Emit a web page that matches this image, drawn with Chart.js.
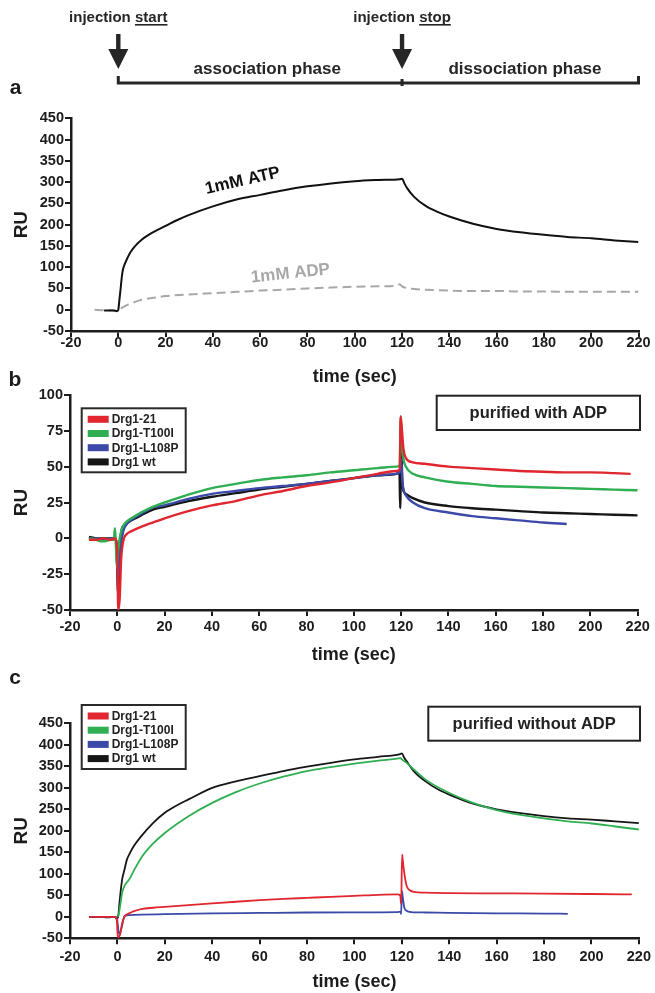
<!DOCTYPE html>
<html>
<head>
<meta charset="utf-8">
<script src="https://cdn.jsdelivr.net/npm/chart.js@4.4.1/dist/chart.umd.min.js"></script>
<style>
  html, body { margin: 0; padding: 0; background: #fff; overflow: hidden; }
  #page { position: relative; width: 655px; height: 993px; }
  .panel { position: absolute; left: 0; width: 655px; }
  #wrap-a { top: 0; height: 390px; }
  #wrap-b { top: 370px; height: 300px; }
  #wrap-c { top: 668px; height: 325px; }
</style>
</head>
<body>
<div id="page">
  <div class="panel" id="wrap-a"><canvas id="chart-a"></canvas></div>
  <div class="panel" id="wrap-b"><canvas id="chart-b"></canvas></div>
  <div class="panel" id="wrap-c"><canvas id="chart-c"></canvas></div>
</div>
<script>
/* SPR sensorgrams, three panels: a (ATP/ADP), b (with ADP), c (without ADP) */

// ---- panel a ----
const atpTime = [-6, -2, -0.5, 0, 0.5, 1, 1.5, 2, 3, 4, 5, 7, 10, 15, 20, 25, 30, 40, 50, 60, 70, 80, 90, 100, 110, 119, 120, 121, 122, 125, 130, 135, 140, 150, 160, 170, 180, 190, 200, 210, 220];
const atpRU   = [-2, -2, -3, 0, 25, 50, 78, 95, 111, 123, 134, 149, 165, 183, 197, 211, 223, 243, 259, 270, 281, 290, 297, 302, 305, 307, 308, 297, 287, 266, 244, 230, 219, 202, 190, 182, 176, 171, 168, 163, 159];
const adpTime = [-10, -6, -3, -1, 0, 1, 3, 5, 9, 15, 20, 30, 40, 50, 60, 70, 80, 90, 100, 110, 118, 119, 120, 122, 125, 130, 140, 150, 160, 170, 180, 190, 200, 210, 220];
const adpRU   = [0, -1, -1, -3, -5, 2, 9, 14, 22, 28, 32, 36, 39, 42, 45, 47, 50, 52, 54, 55, 57, 60, 55, 51, 49, 47, 45, 44, 44, 43, 43, 42, 42, 42, 42];

// ---- panel b: purified with ADP ----
const b21Time = [-12, -9, -6, -3, -1, 0, 0.4, 1, 1.6, 2.5, 4, 6, 10, 15, 20, 30, 40, 50, 60, 70, 80, 90, 100, 110, 118, 119.4, 119.8, 120.2, 121, 122, 125, 130, 140, 150, 160, 170, 180, 190, 200, 210, 217];
const b21RU   = [-1, -1, 0, -1, 0, -10, -50, -42, -15, -2, 3, 5, 8, 11, 14, 19, 23, 26, 30, 33, 36.5, 39, 42, 45, 47, 48, 85, 78, 62, 56, 53, 52, 50, 49, 48, 47, 46.5, 46, 46, 45.5, 45];
const bT100Time = [-12, -9, -7, -5, -3, -1.5, -1, -0.6, -0.2, 0.3, 1, 2, 3, 5, 7, 10, 15, 20, 30, 40, 50, 60, 70, 80, 90, 100, 110, 118, 119.4, 119.8, 120.3, 121, 122, 125, 130, 140, 150, 160, 170, 180, 190, 200, 210, 220];
const bT100RU   = [0, -1, -2, -2, -1, -1, 7, -5, -20, -10, 0, 7, 10, 13, 15, 18, 22, 25, 30.5, 35, 38, 40.7, 42.5, 44, 46, 47.5, 49, 50, 51, 85, 65, 55, 50, 45, 42.5, 39.5, 38, 36.5, 36, 35.5, 35, 34.5, 34, 33.5];
const bL108Time = [-12, -9, -6, -3, -1, -0.3, 0.2, 0.8, 1.5, 2.5, 4, 6, 10, 15, 20, 30, 40, 50, 60, 70, 80, 90, 100, 110, 118, 119.5, 120, 120.5, 121, 122, 125, 130, 140, 150, 160, 170, 180, 190];
const bL108RU   = [0, 0, -1, 0, 0, -5, -30, -20, -5, 5, 10, 13, 17, 21.5, 23, 27.5, 31, 33, 35, 36.5, 38, 40, 42, 44, 45, 47, 55, 40, 34, 30, 25, 21, 18, 15.5, 14, 12.5, 11, 10];
const bWtTime = [-12, -9, -6, -3, -1, -0.3, 0.3, 1, 1.5, 2, 3, 5, 7, 10, 15, 20, 30, 40, 50, 60, 70, 80, 90, 100, 110, 118, 119.3, 119.6, 120, 120.5, 121, 122, 125, 130, 140, 150, 160, 170, 180, 190, 200, 210, 220];
const bWtRU   = [1, 0, 0, 0, 0, -5, -38, -20, 0, 7, 9, 11.6, 13.5, 16, 20, 22, 26, 29, 31.5, 34, 36, 38, 40, 42, 44, 45, 46, 21, 64, 40, 33, 31, 28, 25, 22.5, 21, 20, 19, 18, 17.5, 17, 16.5, 16];

// ---- panel c: purified without ADP ----
const c21Time = [-12, -8, -4, -1, -0.3, 0.2, 0.6, 1.2, 2, 3, 5, 7, 10, 15, 20, 30, 40, 50, 60, 70, 80, 90, 100, 110, 118, 119.3, 119.7, 120.1, 120.6, 121.2, 122, 123, 125, 130, 140, 160, 180, 200, 217];
const c21RU   = [0, 0, 0, 0, -5, -48, -47, -40, -15, 0, 8, 13, 18, 21, 23, 27, 31, 35, 38.6, 41.5, 44, 46.5, 48.5, 51, 52, 50, 30, 145, 120, 95, 72, 63, 58, 56, 55, 54.5, 54, 53, 52];
const cT100Time = [0, 0.5, 1, 2, 3, 5, 7, 10, 15, 20, 30, 40, 50, 60, 70, 80, 90, 100, 110, 118, 119.5, 120, 122, 125, 130, 140, 150, 160, 170, 180, 190, 200, 210, 220];
const cT100RU   = [0, 5, 20, 56, 72, 87, 108, 137, 170, 195, 234, 265, 290, 310, 326, 339, 348, 356, 363, 368, 369, 366, 358, 343, 319, 288, 265, 248, 237, 229, 222, 217, 210, 203];
const cL108Time = [-12, -4, -1, -0.2, 0.5, 1, 1.5, 2, 3, 5, 10, 20, 40, 60, 80, 100, 118, 119.4, 119.7, 120, 120.5, 121, 122, 124, 130, 140, 160, 180, 190];
const cL108RU   = [0, 0, 0, -3, -35, -41, -30, -20, 2, 4, 5, 6, 8, 9, 10, 10.5, 11, 12, 6, 60, 40, 22, 14, 11, 10, 9, 8, 7.5, 7];
const cWtTime = [-12, -8, -4, -1, -0.3, 0.3, 1, 2, 3, 4, 5, 7, 10, 15, 20, 25, 30, 40, 50, 60, 70, 80, 90, 100, 110, 119, 120, 121, 122, 125, 130, 135, 140, 150, 160, 170, 180, 190, 200, 210, 220];
const cWtRU   = [0, 0, -1, 0, -5, 0, 40, 87, 110, 133, 145, 165, 187, 218, 242, 259, 273, 300, 315, 327, 339, 349, 358, 366, 372, 378, 380, 370, 362, 339, 315, 297, 284, 263, 250, 241, 234, 229, 226, 222, 218];

const seriesNames = ['Drg1-21', 'Drg1-T100I', 'Drg1-L108P', 'Drg1 wt'];
const xTicks = { min: -20, max: 220, step: 20 };

const FONT = '"Liberation Sans", Arial, Helvetica, sans-serif';
const INK = '#1c1c1c';
const RED = '#e0262e', GREEN = '#2fae52', BLUE = '#3b4aa8', BLACK = '#161616';

const pts = (t, v) => t.map((x, i) => ({ x, y: v[i] }));

function line(label, t, v, color, width, extra = {}) {
    return Object.assign({
        label, data: pts(t, v), borderColor: color, backgroundColor: color,
        borderWidth: width, pointRadius: 0, cubicInterpolationMode: 'monotone', fill: false,
    }, extra);
}

function scales(yMin, yMax, yStep, yWidth, xHeight, tickPad, titlePad) {
    return {
        x: {
            type: 'linear', min: xTicks.min, max: xTicks.max,
            ticks: { stepSize: xTicks.step, color: INK, font: { family: FONT, size: 14.5, weight: 'bold' },
                     padding: tickPad, maxRotation: 0, autoSkip: false },
            grid: { drawOnChartArea: false, drawTicks: true, tickLength: 6, color: INK, lineWidth: 2 },
            border: { color: INK, width: 2.5 },
            title: { display: true, text: 'time (sec)', color: INK,
                     font: { family: FONT, size: 18, weight: 'bold' }, padding: { top: 0, bottom: titlePad } },
            afterFit: s => { s.height = xHeight; },
        },
        y: {
            type: 'linear', min: yMin, max: yMax,
            ticks: { stepSize: yStep, color: INK, font: { family: FONT, size: 14.5, weight: 'bold' }, padding: 1 },
            grid: { drawOnChartArea: false, drawTicks: true, tickLength: 6, color: INK, lineWidth: 2 },
            border: { color: INK, width: 2.5 },
            title: { display: true, text: 'RU', color: INK,
                     font: { family: FONT, size: 19, weight: 'bold' }, padding: { top: 10, bottom: 0 } },
            afterFit: s => { s.width = yWidth; },
        }
    };
}

function baseOptions(padding, sc) {
    return {
        responsive: true, maintainAspectRatio: false, animation: false,
        layout: { padding },
        plugins: { legend: { display: false }, tooltip: { enabled: false } },
        scales: sc,
    };
}

function panelLetter(ctx, ch, x, y) {
    ctx.save();
    ctx.font = `bold 21px ${FONT}`;
    ctx.fillStyle = INK; ctx.textAlign = 'center'; ctx.textBaseline = 'middle';
    ctx.fillText(ch, x, y);
    ctx.restore();
}

function drawLegend(chart, x, y) {
    const ctx = chart.ctx;
    ctx.save();
    ctx.lineWidth = 2; ctx.strokeStyle = '#2a2a2a';
    ctx.strokeRect(x, y, 104, 64);
    ctx.font = `bold 12px ${FONT}`; ctx.textBaseline = 'middle'; ctx.textAlign = 'left';
    chart.data.datasets.forEach((ds, i) => {
        const cy = y + 11 + i * 14.2;
        ctx.fillStyle = ds.borderColor;
        ctx.fillRect(x + 6, cy - 3.5, 21, 7);
        ctx.fillStyle = '#222';
        ctx.fillText(ds.label, x + 30, cy + 0.5);
    });
    ctx.restore();
}

function drawNoteBox(ctx, text, x1, y1, x2, y2) {
    ctx.save();
    ctx.lineWidth = 2; ctx.strokeStyle = '#222';
    ctx.strokeRect(x1, y1, x2 - x1, y2 - y1);
    ctx.font = `bold 16.5px ${FONT}`; ctx.fillStyle = '#222';
    ctx.textAlign = 'center'; ctx.textBaseline = 'middle';
    ctx.fillText(text, (x1 + x2) / 2, (y1 + y2) / 2 + 1);
    ctx.restore();
}

function drawInjection(ctx, x, word) {
    ctx.font = `bold 15px ${FONT}`;
    const pre = 'injection ';
    const wPre = ctx.measureText(pre).width, wWord = ctx.measureText(word).width;
    const x0 = x - (wPre + wWord) / 2;
    ctx.textAlign = 'left'; ctx.textBaseline = 'alphabetic';
    ctx.fillText(pre, x0, 22);
    ctx.fillText(word, x0 + wPre, 22);
    ctx.fillRect(x0 + wPre, 24, wWord, 1.6);
    ctx.fillRect(x - 2.2, 34, 4.4, 17);
    ctx.beginPath();
    ctx.moveTo(x - 10, 49); ctx.lineTo(x + 10, 49); ctx.lineTo(x, 69);
    ctx.closePath(); ctx.fill();
}

// panel a: top scheme + curve labels
const decorA = {
    id: 'decorA',
    afterDraw(chart) {
        const { ctx, scales: { x, y } } = chart;
        const x0 = x.getPixelForValue(0), x120 = x.getPixelForValue(120), x220 = x.getPixelForValue(220);
        ctx.save();
        ctx.fillStyle = '#262626'; ctx.strokeStyle = '#262626';
        drawInjection(ctx, x0, 'start');
        drawInjection(ctx, x120, 'stop');
        ctx.lineWidth = 3;
        ctx.beginPath();
        ctx.moveTo(x0, 76); ctx.lineTo(x0, 83); ctx.lineTo(x220, 83); ctx.lineTo(x220, 76);
        ctx.moveTo(x120, 79); ctx.lineTo(x120, 86);
        ctx.stroke();
        ctx.font = `bold 17px ${FONT}`; ctx.textAlign = 'center'; ctx.textBaseline = 'middle';
        ctx.fillText('association phase', x.getPixelForValue(63), 69);
        ctx.fillText('dissociation phase', x.getPixelForValue(172), 69);

        ctx.font = `bold 17px ${FONT}`;
        ctx.save();
        ctx.translate(x.getPixelForValue(52.6), y.getPixelForValue(303));
        ctx.rotate(-13 * Math.PI / 180);
        ctx.fillStyle = '#111';
        ctx.fillText('1mM ATP', 0, 0);
        ctx.restore();
        ctx.save();
        ctx.translate(x.getPixelForValue(72.8), y.getPixelForValue(85));
        ctx.rotate(-6 * Math.PI / 180);
        ctx.fillStyle = '#a8a8a8';
        ctx.fillText('1mM ADP', 0, 0);
        ctx.restore();
        ctx.restore();
        panelLetter(ctx, 'a', 15.5, 88);
    }
};

const decorB = {
    id: 'decorB',
    afterDraw(chart) {
        drawLegend(chart, 81.7, 38.3);
        drawNoteBox(chart.ctx, 'purified with ADP', 436.7, 25.7, 640, 60);
        panelLetter(chart.ctx, 'b', 15, 10);
    }
};

const decorC = {
    id: 'decorC',
    afterDraw(chart) {
        drawLegend(chart, 81.7, 37);
        drawNoteBox(chart.ctx, 'purified without ADP', 428.3, 38.7, 640, 72.7);
        panelLetter(chart.ctx, 'c', 15, 10);
    }
};

new Chart(document.getElementById('chart-a'), {
    type: 'line',
    data: { datasets: [
        line('1mM ATP', atpTime, atpRU, '#111', 2),
        line('1mM ADP', adpTime, adpRU, '#a8a8a8', 2, { borderDash: [9, 5] }),
    ] },
    options: baseOptions({ top: 118.3, left: 0, right: 16.5, bottom: 0 },
                         scales(-50, 450, 50, 71, 59, -3, 2.5)),
    plugins: [decorA],
});

new Chart(document.getElementById('chart-b'), {
    type: 'line',
    data: { datasets: [
        line(seriesNames[0], b21Time, b21RU, RED, 2.4),
        line(seriesNames[1], bT100Time, bT100RU, GREEN, 2.4),
        line(seriesNames[2], bL108Time, bL108RU, BLUE, 2.4),
        line(seriesNames[3], bWtTime, bWtRU, BLACK, 2.4),
    ] },
    options: baseOptions({ top: 25, left: 0, right: 17.3, bottom: 0 },
                         scales(-50, 100, 25, 70, 60, 2, 4.2)),
    plugins: [decorB],
});

new Chart(document.getElementById('chart-c'), {
    type: 'line',
    data: { datasets: [
        line(seriesNames[0], c21Time, c21RU, RED, 1.8),
        line(seriesNames[1], cT100Time, cT100RU, GREEN, 1.8),
        line(seriesNames[2], cL108Time, cL108RU, BLUE, 1.8),
        line(seriesNames[3], cWtTime, cWtRU, BLACK, 1.8),
    ] },
    options: baseOptions({ top: 55.3, left: 0, right: 15, bottom: 0 },
                         scales(-50, 450, 50, 70, 54.7, 4, 0)),
    plugins: [decorC],
});
</script>
</body>
</html>
